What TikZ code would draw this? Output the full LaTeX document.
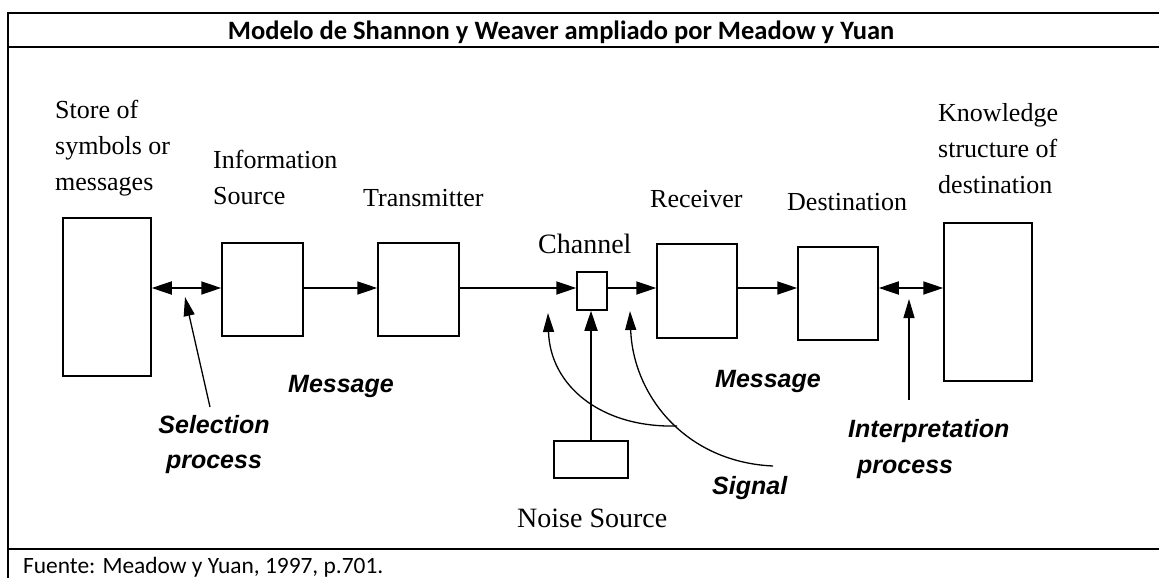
\documentclass[tikz,border=0pt]{standalone}
\usepackage{fontspec}
\setmainfont{Liberation Serif}
\newfontfamily\lsans{Liberation Sans}
\newfontfamily\calibri{Carlito}
\usetikzlibrary{arrows.meta}
\begin{document}
\begin{tikzpicture}[x=1pt,y=-1pt,
  blk/.style={draw, line width=1.5pt, inner sep=0pt},
  arr/.style={line width=1.8pt, -{Triangle[length=20pt,width=13pt]}},
  darr/.style={line width=1.8pt, {Triangle[length=20pt,width=13pt]}-{Triangle[length=20pt,width=13pt]}},
  thinarr/.style={line width=1.3pt, -{Triangle[length=19pt,width=11pt]}},
  lbl/.style={inner sep=0pt, anchor=base west, align=left, font=\fontsize{26}{36}\selectfont},
  lblc/.style={inner sep=0pt, anchor=base west, font=\fontsize{28}{36}\selectfont},
  emph/.style={inner sep=0pt, anchor=base west, align=left, font=\lsans\bfseries\itshape\fontsize{25}{35}\selectfont},
  frame/.style={line width=2.6pt}
]
\useasboundingbox (0,0) rectangle (1159,578);
\fill[white] (0,0) rectangle (1159,578);
% frame
\draw[frame] (8,578) -- (8,13) -- (1159,13);
\draw[frame] (8,47) -- (1159,47);
\draw[frame] (8,549) -- (1159,549);
\node[inner sep=0pt, anchor=base, font=\calibri\bfseries\fontsize{26.5}{30}\selectfont] (title) at (561,40) {Modelo de Shannon y Weaver ampliado por Meadow y Yuan};
\node[inner sep=0pt, anchor=base west, font=\calibri\fontsize{23.4}{28}\selectfont] (src) at (23,573) {Fuente: Meadow y Yuan, 1997, p.701.};

% boxes
\node[blk, minimum width=88pt, minimum height=158pt] (store) at (107,297) {};
\node[blk, minimum width=81pt, minimum height=93pt] (info) at (262.5,289.5) {};
\node[blk, minimum width=81pt, minimum height=93pt] (trans) at (418.5,289.5) {};
\node[blk, minimum width=30pt, minimum height=38pt] (chan) at (592,291) {};
\node[blk, minimum width=80pt, minimum height=94pt] (recv) at (697,291) {};
\node[blk, minimum width=80pt, minimum height=93pt] (dest) at (838,293.5) {};
\node[blk, minimum width=88pt, minimum height=158pt] (know) at (988,302) {};
\node[blk, minimum width=74pt, minimum height=37pt] (noise) at (591,459.5) {};

% main line
\coordinate (ml) at (0,288);
\draw[darr] (store.east |- ml) -- (info.west |- ml);
\draw[arr] (info.east |- ml) -- (trans.west |- ml);
\draw[arr] (trans.east |- ml) -- (chan.west |- ml);
\draw[arr] (chan.east |- ml) -- (recv.west |- ml);
\draw[arr] (recv.east |- ml) -- (dest.west |- ml);
\draw[darr] (dest.east |- ml) -- (know.west |- ml);
\draw[arr] (noise.north) -- (noise.north |- chan.south);

% process arrows
\coordinate (selT) at (210,407);
\coordinate (selH) at (185,297);
\draw[thinarr] (selT) -- (selH);
\coordinate (intT) at (909,400);
\coordinate (intH) at (909,299);
\draw[thinarr] (intT) -- (intH);

% signal curves
\coordinate (s1T) at (677,426);
\coordinate (s1H) at (548,313);
\coordinate (s2T) at (773,466);
\coordinate (s2H) at (630,311);
\draw[thinarr] (s1T) .. controls (600,428) and (550,385) .. (s1H);
\draw[thinarr] (s2T) .. controls (685,462) and (633,395) .. (s2H);

% labels
\node[lbl] (lstore) at (55,190) {Store of\\symbols or\\messages};
\node[lbl] (linfo) at (213,204) {Information\\Source};
\node[lbl] (ltrans) at (363,206) {Transmitter};
\node[lblc] (lchan) at (538,253) {Channel};
\node[lbl] (lrecv) at (650,207) {Receiver};
\node[lbl] (ldest) at (787,210) {Destination};
\node[lbl] (lknow) at (938,193) {Knowledge\\structure of\\destination};
\node[lblc] (lnoise) at (517,527) {Noise Source};

\node[emph] (msg1) at (288,392) {Message};
\node[emph] (msg2) at (715,387) {Message};
\node[emph, align=center, anchor=base] (sel) at (214,468) {Selection\\process};
\node[emph] (interp1) at (848,437) {Interpretation};
\node[emph] (interp2) at (857,473) {process};
\node[emph] (sig) at (712,494) {Signal};
\end{tikzpicture}
\end{document}
